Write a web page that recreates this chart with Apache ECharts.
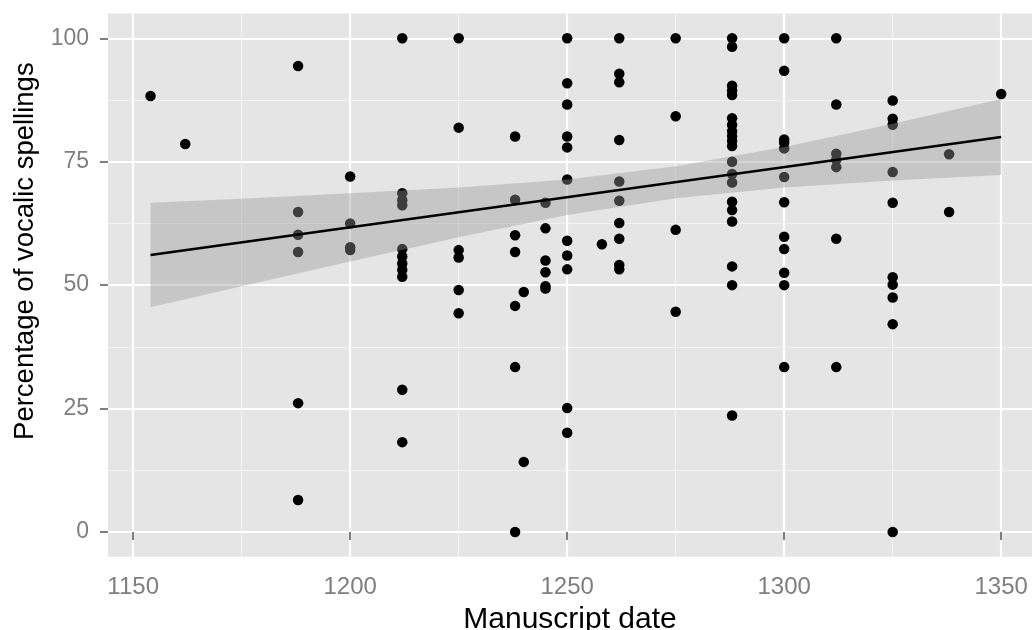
<!DOCTYPE html>
<html>
<head>
<meta charset="utf-8">
<script src="https://cdn.jsdelivr.net/npm/echarts@6/dist/echarts.min.js"></script>
<style>
  html, body { margin: 0; padding: 0; background: #ffffff; }
  #chart { width: 1032px; height: 630px; }
</style>
</head>
<body>
<div id="chart"></div>
<script>
// ---- data ----
const years = [1154, 1162, 1188, 1200, 1212, 1225, 1238, 1240, 1245, 1250, 1258, 1262, 1275, 1288, 1300, 1312, 1325, 1338, 1350];
const percentages = [
  [88.3],
  [78.6],
  [94.4, 64.8, 60.2, 56.7, 26.1, 6.5],
  [72.0, 62.5, 57.7, 57.1],
  [100, 68.6, 67.2, 66.2, 57.3, 55.8, 54.4, 53.1, 51.7, 28.8, 18.2],
  [100, 81.9, 57.1, 55.6, 49.0, 44.3],
  [80.1, 67.3, 60.1, 56.7, 45.8, 33.4, 0],
  [48.6, 14.2],
  [66.7, 61.5, 55.0, 52.6, 49.8, 49.3],
  [100, 90.9, 86.6, 80.1, 77.9, 71.4, 59.0, 56.0, 53.2, 25.1, 20.1],
  [58.3],
  [100, 92.8, 91.1, 79.4, 71.0, 67.1, 62.6, 59.4, 54.1, 53.2],
  [100, 84.2, 61.2, 44.6],
  [100, 98.3, 90.4, 89.4, 88.5, 83.8, 82.5, 81.2, 80.2, 79.2, 78.2, 75.0, 72.5, 70.8, 66.9, 65.2, 62.9, 53.8, 50.0, 23.6],
  [100, 93.4, 79.5, 78.9, 77.7, 71.9, 66.8, 59.8, 57.3, 52.5, 50.0, 33.4],
  [100, 86.6, 76.6, 75.4, 73.9, 59.4, 33.4],
  [87.4, 83.7, 82.5, 72.9, 66.7, 51.6, 50.1, 47.5, 42.1, 0],
  [76.5, 64.8],
  [88.7]
];
const fitX = [1154, 1350];
const fitY = [56.1, 80.0];
const bandX = [1154, 1175, 1200, 1225, 1250, 1275, 1300, 1325, 1350];
const bandLow = [45.5, 49.8, 54.8, 59.7, 64.2, 67.6, 69.8, 71.2, 72.3];
const bandHigh = [66.7, 67.5, 68.6, 69.8, 71.4, 74.1, 78.0, 82.7, 87.7];
const xMajorTicks = [1150, 1200, 1250, 1300, 1350];
const xMinorTicks = [1175, 1225, 1275, 1325];
const yMajorTicks = [0, 25, 50, 75, 100];
const yMinorTicks = [12.5, 37.5, 62.5, 87.5];

// ---- build series data ----
const points = [];
years.forEach((yr, i) => percentages[i].forEach(v => points.push([yr, v])));
const lineData = fitX.map((x, i) => [x, fitY[i]]);
const bandData = bandX.map((x, i) => [x, bandLow[i], bandHigh[i]]);

const FONT = "'Liberation Sans', Arial, Helvetica, sans-serif";
const X_MIN = 1144.2, X_MAX = 1357.1, Y_MIN = -5, Y_MAX = 105;
const plain = v => String(v);

const chart = echarts.init(document.getElementById('chart'), null, { renderer: 'canvas' });
chart.setOption({
  animation: false,
  backgroundColor: '#ffffff',
  grid: {
    left: 108, right: 0, top: 13.6, bottom: 73.3,
    outerBoundsMode: 'none', containLabel: false,
    show: true, backgroundColor: '#e5e5e5', borderWidth: 0
  },
  xAxis: [
    {
      type: 'value', min: X_MIN, max: X_MAX, z: 1,
      name: 'Manuscript date', nameLocation: 'middle', nameGap: 37,
      nameTextStyle: { color: '#000000', fontSize: 30, fontFamily: FONT },
      axisLine: { show: false },
      axisTick: { show: true, length: 8, customValues: xMajorTicks, lineStyle: { color: '#7f7f7f', width: 2 } },
      axisLabel: { show: true, customValues: xMajorTicks, formatter: plain, margin: 19, color: '#7f7f7f', fontSize: 24, fontFamily: FONT },
      splitLine: { show: true, lineStyle: { color: '#ffffff', width: 2.2 } }
    },
    {
      type: 'value', min: X_MIN, max: X_MAX, z: 0,
      axisLine: { show: false },
      axisTick: { show: false, customValues: xMinorTicks },
      axisLabel: { show: false, customValues: xMinorTicks },
      splitLine: { show: true, lineStyle: { color: '#f2f2f2', width: 1.2 } }
    }
  ],
  yAxis: [
    {
      type: 'value', min: Y_MIN, max: Y_MAX, z: 1,
      name: 'Percentage of vocalic spellings', nameLocation: 'middle', nameGap: 68,
      nameTextStyle: { color: '#000000', fontSize: 27.5, fontFamily: FONT, padding: [0, 0, 0, 68] },
      axisLine: { show: false },
      axisTick: { show: true, length: 8, customValues: yMajorTicks, lineStyle: { color: '#7f7f7f', width: 2 } },
      axisLabel: { show: true, customValues: yMajorTicks, formatter: plain, margin: 19, color: '#7f7f7f', fontSize: 23, fontFamily: FONT },
      splitLine: { show: true, lineStyle: { color: '#ffffff', width: 2.2 } }
    },
    {
      type: 'value', min: Y_MIN, max: Y_MAX, z: 0,
      axisLine: { show: false },
      axisTick: { show: false, customValues: yMinorTicks },
      axisLabel: { show: false, customValues: yMinorTicks },
      splitLine: { show: true, lineStyle: { color: '#f2f2f2', width: 1.2 } }
    }
  ],
  series: [
    {
      type: 'scatter', xAxisIndex: 0, yAxisIndex: 0, z: 2,
      data: points, symbol: 'circle', symbolSize: 10.5,
      itemStyle: { color: '#000000', opacity: 1 },
      emphasis: { disabled: true }, silent: true
    },
    {
      type: 'custom', xAxisIndex: 0, yAxisIndex: 0, z: 3, silent: true,
      data: bandData,
      encode: { x: 0, y: [1, 2] },
      renderItem: function (params, api) {
        if (params.dataIndex !== 0) return null;
        const pts = [];
        for (let i = 0; i < bandData.length; i++) pts.push(api.coord([bandData[i][0], bandData[i][2]]));
        for (let i = bandData.length - 1; i >= 0; i--) pts.push(api.coord([bandData[i][0], bandData[i][1]]));
        return { type: 'polygon', shape: { points: pts }, style: { fill: 'rgba(153,153,153,0.4)' } };
      }
    },
    {
      type: 'line', xAxisIndex: 0, yAxisIndex: 0, z: 4,
      data: lineData, symbol: 'none',
      lineStyle: { color: '#000000', width: 2.5 }, silent: true
    }
  ]
});
</script>
</body>
</html>
